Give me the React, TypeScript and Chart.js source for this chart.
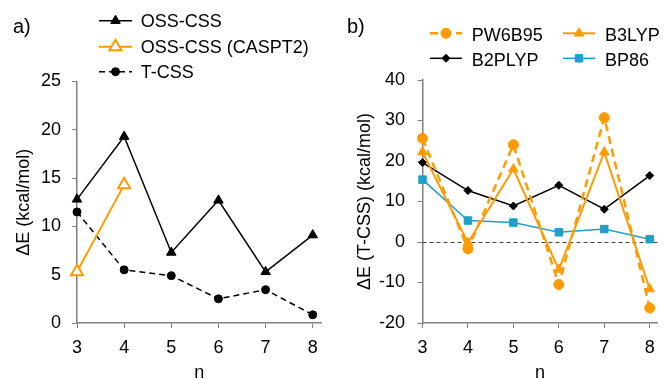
import React, { useEffect, useRef } from 'react';
import { Chart, registerables } from 'chart.js';
import { drawPoint } from 'chart.js/helpers';

Chart.register(...registerables);

// ---------- data ----------
const nValues = [3, 4, 5, 6, 7, 8];
const ossCss = [12.8, 19.3, 7.3, 12.7, 5.3, 9.1];
const ossCssCaspt2 = [5.3, 14.3, null, null, null, null];
const tCss = [11.5, 5.5, 4.9, 2.5, 3.45, 0.85];

const pw6b95 = [25.6, -1.7, 24.0, -10.5, 30.7, -16.3];
const b3lyp = [22.2, -0.2, 18.0, -6.8, 22.2, -11.6];
const b2plyp = [19.6, 12.7, 8.9, 14.0, 8.1, 16.4];
const bp86 = [15.4, 5.3, 4.8, 2.4, 3.2, 0.7];

const leftTicks = [0, 5, 10, 15, 20, 25];
const rightTicks = [-20, -10, 0, 10, 20, 30, 40];

const leftLabels = ['OSS-CSS', 'OSS-CSS (CASPT2)', 'T-CSS'];
const rightLabels = ['PW6B95', 'B3LYP', 'B2PLYP', 'BP86'];

// ---------- styling ----------
const FONT = "'Liberation Sans', Arial, Helvetica, sans-serif";
const ORANGE = '#FF9A00';
const BLUE = '#1F9FCC';
const AXIS = '#808080';

const toPoints = (vals: (number | null)[]) =>
  nValues.map((n, i) => ({ x: n, y: vals[i] as any }));

// legend plugin: draws line + marker + label for each item
const legendPlugin = {
  id: 'customLegend',
  afterDraw(chart: any, _args: any, opts: any) {
    const ctx = chart.ctx;
    const items = opts.items || [];
    ctx.save();
    items.forEach((it: any) => {
      const ds = chart.data.datasets[it.dataset];
      ctx.strokeStyle = ds.borderColor;
      ctx.lineWidth = ds.borderWidth;
      ctx.setLineDash(ds.borderDash || []);
      ctx.beginPath();
      ctx.moveTo(it.x1, it.y);
      ctx.lineTo(it.x2, it.y);
      ctx.stroke();
      ctx.setLineDash([]);
      ctx.fillStyle = ds.pointBackgroundColor;
      ctx.strokeStyle = ds.pointBorderColor;
      ctx.lineWidth = ds.pointBorderWidth;
      drawPoint(
        ctx,
        {
          pointStyle: ds.pointStyle,
          radius: ds.pointRadius,
          rotation: 0,
          borderWidth: ds.pointBorderWidth,
        } as any,
        (it.x1 + it.x2) / 2,
        it.y
      );
      ctx.fillStyle = '#000';
      ctx.font = `18px ${FONT}`;
      ctx.textBaseline = 'alphabetic';
      ctx.textAlign = 'left';
      ctx.fillText(ds.label, it.tx, it.ty);
    });
    if (opts.panel) {
      ctx.font = `20px ${FONT}`;
      ctx.fillStyle = '#000';
      ctx.fillText(opts.panel.text, opts.panel.x, opts.panel.y);
    }
    ctx.restore();
  },
};

const zeroLinePlugin = {
  id: 'zeroLine',
  beforeDatasetsDraw(chart: any, _args: any, opts: any) {
    if (opts.value === undefined) return;
    const { ctx, chartArea } = chart;
    const y = chart.scales.y.getPixelForValue(opts.value);
    ctx.save();
    ctx.strokeStyle = '#444';
    ctx.lineWidth = 1;
    ctx.setLineDash([4, 3]);
    ctx.beginPath();
    ctx.moveTo(chartArea.left, Math.round(y) + 0.5);
    ctx.lineTo(chartArea.right, Math.round(y) + 0.5);
    ctx.stroke();
    ctx.restore();
  },
};

function axisCommon() {
  return {
    grid: {
      drawOnChartArea: false,
      drawTicks: true,
      tickLength: 5,
      color: AXIS,
      lineWidth: 1,
    },
    border: { display: true, color: AXIS, width: 1.5 },
  };
}

function makeOptions(cfg: any) {
  return {
    responsive: false,
    animation: false,
    devicePixelRatio: 1,
    layout: { padding: cfg.padding },
    plugins: {
      legend: { display: false },
      tooltip: { enabled: false },
      customLegend: cfg.legend,
      zeroLine: cfg.zero || {},
    },
    scales: {
      x: {
        type: 'linear',
        min: nValues[0],
        max: cfg.xMax,
        ticks: {
          stepSize: 1,
          includeBounds: false,
          padding: 9,
          color: '#000',
          font: { family: FONT, size: 18 },
        },
        title: {
          display: true,
          text: 'n',
          color: '#000',
          font: { family: FONT, size: 18, lineHeight: 0.7 },
          padding: 0,
        },
        afterFit: (s: any) => {
          s.height = 56;
        },
        ...axisCommon(),
      },
      y: {
        type: 'linear',
        min: cfg.ticks[0],
        max: cfg.ticks[cfg.ticks.length - 1],
        ticks: {
          stepSize: cfg.ticks[1] - cfg.ticks[0],
          padding: cfg.tickPad,
          color: '#000',
          font: { family: FONT, size: 18 },
        },
        title: {
          display: true,
          text: cfg.yTitle,
          color: '#000',
          font: { family: FONT, size: 18, lineHeight: 1 },
          padding: { top: cfg.titlePad, bottom: 0 },
        },
        afterFit: (s: any) => {
          s.width = cfg.yWidth;
        },
        ...axisCommon(),
      },
    },
  };
}

function leftConfig(): any {
  return {
    type: 'line',
    data: {
      datasets: [
        {
          label: leftLabels[0],
          data: toPoints(ossCss),
          borderColor: '#000',
          borderWidth: 1.5,
          pointStyle: 'triangle',
          pointRadius: 5.5,
          pointBackgroundColor: '#000',
          pointBorderColor: '#000',
          pointBorderWidth: 1,
          clip: false,
        },
        {
          label: leftLabels[1],
          data: toPoints(ossCssCaspt2),
          borderColor: ORANGE,
          borderWidth: 2,
          pointStyle: 'triangle',
          pointRadius: 7,
          pointBackgroundColor: '#fff',
          pointBorderColor: ORANGE,
          pointBorderWidth: 2,
          clip: false,
        },
        {
          label: leftLabels[2],
          data: toPoints(tCss),
          borderColor: '#000',
          borderWidth: 1.5,
          borderDash: [6, 4],
          pointStyle: 'circle',
          pointRadius: 4,
          pointBackgroundColor: '#000',
          pointBorderColor: '#000',
          pointBorderWidth: 1,
          clip: false,
        },
      ],
    },
    options: makeOptions({
      padding: { left: 0, top: 81.5, right: 10.3, bottom: 0 },
      xMax: 8.19,
      ticks: leftTicks,
      tickPad: 11,
      yTitle: 'ΔE (kcal/mol)',
      titlePad: 15.5,
      yWidth: 77,
      legend: {
        items: [
          { dataset: 0, x1: 99, x2: 132, y: 20.7, tx: 140.7, ty: 27.3 },
          { dataset: 1, x1: 99, x2: 132, y: 46.7, tx: 140.7, ty: 52.8 },
          { dataset: 2, x1: 99, x2: 132, y: 71.7, tx: 140.7, ty: 78.3 },
        ],
        panel: { text: 'a)', x: 13, y: 32.5 },
      },
    }),
  };
}

function rightConfig(): any {
  return {
    type: 'line',
    data: {
      datasets: [
        {
          label: rightLabels[0],
          data: toPoints(pw6b95),
          borderColor: ORANGE,
          borderWidth: 2.5,
          borderDash: [8, 5],
          pointStyle: 'circle',
          pointRadius: 5,
          pointBackgroundColor: ORANGE,
          pointBorderColor: ORANGE,
          pointBorderWidth: 1,
          clip: false,
        },
        {
          label: rightLabels[1],
          data: toPoints(b3lyp),
          borderColor: ORANGE,
          borderWidth: 2,
          pointStyle: 'triangle',
          pointRadius: 5.5,
          pointBackgroundColor: ORANGE,
          pointBorderColor: ORANGE,
          pointBorderWidth: 1,
          clip: false,
        },
        {
          label: rightLabels[2],
          data: toPoints(b2plyp),
          borderColor: '#000',
          borderWidth: 1.5,
          pointStyle: 'rectRot',
          pointRadius: 4,
          pointBackgroundColor: '#000',
          pointBorderColor: '#000',
          pointBorderWidth: 1,
          clip: false,
        },
        {
          label: rightLabels[3],
          data: toPoints(bp86),
          borderColor: BLUE,
          borderWidth: 1.5,
          pointStyle: 'rect',
          pointRadius: 5.3,
          pointBackgroundColor: BLUE,
          pointBorderColor: BLUE,
          pointBorderWidth: 1,
          clip: false,
        },
      ],
    },
    options: makeOptions({
      padding: { left: 0, top: 80, right: 0, bottom: 0 },
      xMax: 8.171,
      ticks: rightTicks,
      tickPad: 12.5,
      yTitle: 'ΔE (T-CSS) (kcal/mol)',
      titlePad: 24,
      yWidth: 90.5,
      zero: { value: 0 },
      legend: {
        items: [
          { dataset: 0, x1: 98, x2: 130, y: 33.3, tx: 139.7, ty: 41 },
          { dataset: 1, x1: 231, x2: 263, y: 33.3, tx: 273, ty: 41 },
          { dataset: 2, x1: 98, x2: 130, y: 58.3, tx: 139.7, ty: 66 },
          { dataset: 3, x1: 231, x2: 263, y: 58.3, tx: 273, ty: 66 },
        ],
        panel: { text: 'b)', x: 15, y: 32.5 },
      },
    }),
  };
}

function Panel({ left, width, make }: { left: number; width: number; make: () => any }) {
  const ref = useRef<HTMLCanvasElement | null>(null);
  useEffect(() => {
    if (!ref.current) return;
    const cfg = make();
    cfg.plugins = [legendPlugin, zeroLinePlugin];
    const chart = new Chart(ref.current, cfg);
    return () => chart.destroy();
  }, []);
  return (
    <canvas
      ref={ref}
      width={width}
      height={379}
      style={{ position: 'absolute', left, top: 0, width, height: 379 }}
    />
  );
}

export default function App() {
  return (
    <div
      style={{
        position: 'fixed',
        left: 0,
        top: 0,
        width: 664,
        height: 379,
        background: '#fff',
        overflow: 'hidden',
      }}
    >
      <Panel left={0} width={332} make={leftConfig} />
      <Panel left={332} width={332} make={rightConfig} />
    </div>
  );
}
